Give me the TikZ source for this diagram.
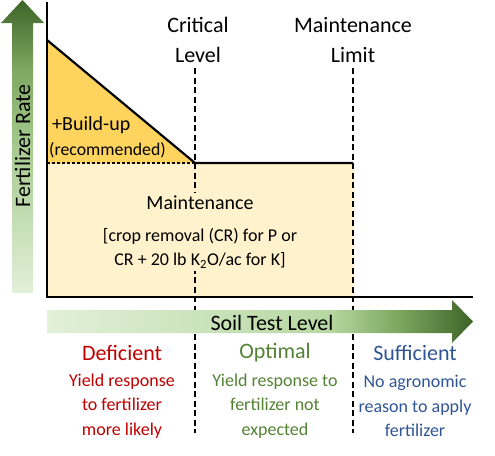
\documentclass[tikz,border=0pt]{standalone}
\usepackage{fontspec}
\setmainfont{Carlito}
\usepackage{tikz}
\usetikzlibrary{calc,positioning}

\definecolor{buildup}{HTML}{FFD45E}
\definecolor{maint}{HTML}{FFF2CC}
\definecolor{lightgrn}{HTML}{E2F0D9}
\definecolor{softgrn}{HTML}{B7D8A2}
\definecolor{pale}{HTML}{A8CC92}
\definecolor{midgrn}{HTML}{7FA862}
\definecolor{darkgrn}{HTML}{3D6428}
\definecolor{defred}{HTML}{C00000}
\definecolor{optgrn}{HTML}{548235}
\definecolor{sufblue}{HTML}{2F5597}

\pgfdeclarehorizontalshading{soilarrow}{100bp}{color(0bp)=(lightgrn); color(25bp)=(lightgrn); color(58bp)=(softgrn); color(66bp)=(midgrn); color(75bp)=(darkgrn); color(100bp)=(darkgrn)}
\pgfdeclareverticalshading{ratearrow}{100bp}{color(0bp)=(lightgrn); color(25bp)=(lightgrn); color(49bp)=(pale); color(63bp)=(midgrn); color(75bp)=(darkgrn); color(100bp)=(darkgrn)}

\begin{document}
\begin{tikzpicture}[x=1pt,y=-1pt]
\tikzstyle{axis}=[line width=2.6pt, line join=miter]
\tikzstyle{rateline}=[line width=2.2pt]
\tikzstyle{bound}=[line width=2pt, dash pattern=on 6pt off 3.5pt]
\tikzstyle{big}=[font=\fontsize{22}{30}\selectfont, align=center, inner sep=0pt]
\tikzstyle{small}=[font=\fontsize{18}{24.5}\selectfont, align=center, inner sep=0pt]

  \useasboundingbox (0,0) rectangle (495,455);

  \coordinate (O)   at (47,297);
  \coordinate (ytop) at (47,2);
  \coordinate (xend) at (473,297);
  \coordinate (B)   at (47,40);
  \coordinate (D)   at (47,163);
  \coordinate (C)   at (195,163);
  \coordinate (M)   at (353,163);
  \coordinate (Mb)  at (353,297);
  \coordinate (Ct)  at (195,68);
  \coordinate (Cb)  at (195,433);
  \coordinate (Mt)  at (353,68);
  \coordinate (Mbb) at (353,433);

  \fill[maint] (D) rectangle (Mb);
  \fill[buildup] (B) -- (C) -- (D) -- cycle;
  \draw[bound] (Ct) -- (Cb);
  \draw[bound] (Mt) -- (Mbb);
  \draw[rateline, dash pattern=on 2.5pt off 2.5pt] (D) -- (C);
  \draw[rateline] (B) -- (C) -- (M);
  \draw[axis] (ytop) -- (O) -- (xend);

  \shade[shading=ratearrow] (12,293) -- (12,23) -- (1,23) -- (22.5,0) -- (44,23) -- (33,23) -- (33,293) -- cycle;
  \shade[shading=soilarrow] (47,310) -- (452,310) -- (452,300) -- (473,321.5) -- (452,343) -- (452,333) -- (47,333) -- cycle;

  \node[big, rotate=90] (rate) at (22.5,146) {Fertilizer Rate};
  \node[big] (soil) at (272,323) {Soil Test Level};
  \node[big] (crit) at (198,40) {Critical\\Level};
  \node[big] (mlim) at (353,40) {Maintenance\\Limit};

  \node[font=\fontsize{20}{24}\selectfont, anchor=west, inner sep=0pt] (bu) at (52,125) {+Build-up};
  \node[font=\fontsize{17.8}{22}\selectfont, anchor=west, inner sep=0pt] (rec) at (49,150) {(recommended)};
  \node[small, fill=maint, inner sep=3pt] (mtext) at (200,232) {{\fontsize{20}{24}\selectfont Maintenance}\\[7pt]{[}crop removal (CR) for P or\\CR + 20 lb K\textsubscript{2}O/ac for K]};

  \node[big, text=defred] (def) at (122,353) {Deficient};
  \node[small, text=defred] (defnote) at (122,406) {Yield response\\to fertilizer\\more likely};
  \node[big, text=optgrn] (opt) at (275,353) {Optimal};
  \node[small, text=optgrn] (optnote) at (275,406) {Yield response to\\fertilizer not\\expected};
  \node[big, text=sufblue] (suf) at (415,353) {Sufficient};
  \node[small, text=sufblue] (sufnote) at (415,406) {No agronomic\\reason to apply\\fertilizer};

\end{tikzpicture}
\end{document}
